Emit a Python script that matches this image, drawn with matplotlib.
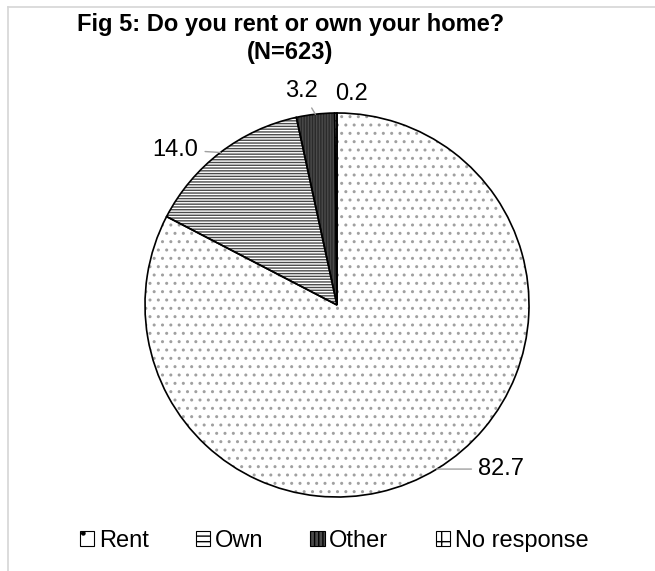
import numpy as np
import matplotlib
matplotlib.use("Agg")
from matplotlib import pyplot as plt
from matplotlib.patches import Patch
from matplotlib.lines import Line2D

plt.rcParams['font.family'] = ['Liberation Sans', 'DejaVu Sans']

# survey answers, percent of respondents
categories = ['Rent', 'Own', 'Other', 'No response']
shares = [82.7, 14.0, 3.2, 0.2]
share_labels = ['82.7', '14.0', '3.2', '0.2']

hatches = ['..', '------', '||||||', '++']
fills = ['white', 'white', '#4a4a4a', 'white']
hatch_cols = ['#a0a0a0', '#4a4a4a', '#2a2a2a', '#555555']

fig = plt.figure(figsize=(6.55, 5.71), dpi=100)

# light frame at top and left
fig.add_artist(Line2D([8/655, 1], [1 - 7/571, 1 - 7/571], color='#d6d6d6', lw=1.2))
fig.add_artist(Line2D([8/655, 8/655], [0, 1 - 7/571], color='#d6d6d6', lw=1.2))

cx, cy, r = 337/655, 1 - 305/571, 192
ax = fig.add_axes([cx - r/655, cy - r/571, 2*r/655, 2*r/571])

# first pass: fills and hatching (hatch takes the edge colour)
wedges, _ = ax.pie(shares, startangle=90, counterclock=False, radius=1,
                   wedgeprops=dict(linewidth=0))
for w, h, fc, hc in zip(wedges, hatches, fills, hatch_cols):
    w.set_facecolor(fc)
    w.set_hatch(h)
    w.set_edgecolor(hc)

# second pass: black outlines
outl, _ = ax.pie(shares, startangle=90, counterclock=False, radius=1,
                 wedgeprops=dict(facecolor='none', edgecolor='black', linewidth=1.2))

ax.set_xlim(-1.0, 1.0)
ax.set_ylim(-1.0, 1.0)
ax.set_aspect('equal')
ax.axis('off')

# value labels, leader lines where there is room
offsets = [(30, 0), (-16, 2), (-10, 17), (11, 14)]
aligns = ['left', 'right', 'center', 'center']
leaders = [True, True, True, False]
for w, lab, off, ha, lead in zip(outl, share_labels, offsets, aligns, leaders):
    ang = np.deg2rad((w.theta1 + w.theta2) / 2)
    x, y = np.cos(ang), np.sin(ang)
    props = dict(arrowstyle='-', color='#a0a0a0', lw=1, shrinkA=3, shrinkB=0) if lead else None
    ax.annotate(lab, xy=(x, y), xytext=off, textcoords='offset points',
                ha=ha, va='center', fontsize=17, arrowprops=props)

fig.text(0.443, 1 - 25/571, 'Fig 5: Do you rent or own your home?',
         ha='center', va='center', fontsize=17, fontweight='bold')
fig.text(0.443, 1 - 53/571, '(N=623)', ha='center', va='center',
         fontsize=17, fontweight='bold')

handles = [Patch(facecolor=fc, edgecolor='black', hatch=h, lw=0.8)
           for fc, h in zip(fills, ['.', '---', '||||', '+'])]
fig.legend(handles, categories, loc='center', bbox_to_anchor=(0.51, 1 - 541/571),
           ncol=4, frameon=False, fontsize=17, handlelength=0.6, handleheight=0.6,
           handletextpad=0.2, columnspacing=2.0)

fig.savefig('out.png', dpi=100)
